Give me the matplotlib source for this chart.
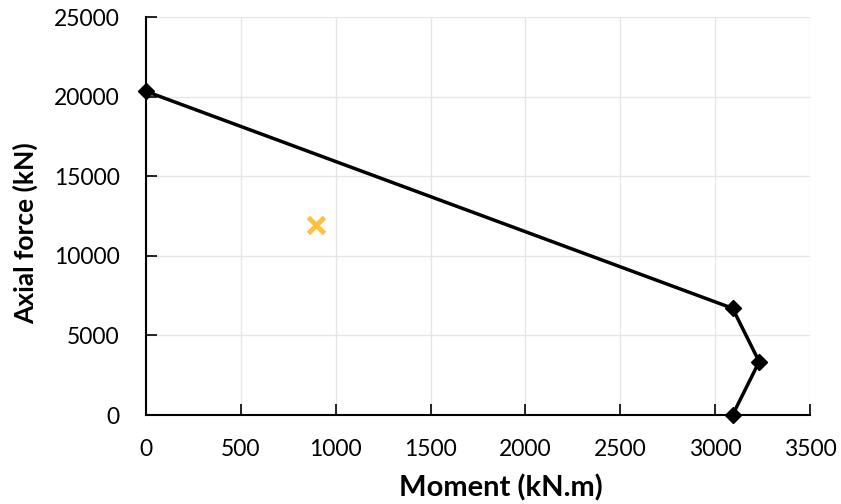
import matplotlib
matplotlib.use("Agg")
import matplotlib.pyplot as plt

moment = [0, 3092, 3232, 3092]
axial = [20330, 6700, 3350, 0]
pt_moment = [896]
pt_axial = [11950]

plt.rcParams['font.family'] = ['Lato', 'DejaVu Sans']
fig = plt.figure(figsize=(8.41, 5.04), dpi=100)
ax = fig.add_axes([146/841, 1-415/504, (810-146)/841, (415-17)/504])
ax.plot(moment, axial, color='black', lw=2.5, marker='D', ms=8.5, zorder=3, clip_on=False)
ax.plot(pt_moment, pt_axial, linestyle='none', marker='x', color='#FFC040', ms=11, mew=3.5, zorder=3)
ax.set_xlim(0, 3500)
ax.set_ylim(0, 25000)
ax.set_xticks(range(0, 3501, 500))
ax.set_yticks(range(0, 25001, 5000))
ax.grid(True, color='#E6E6E6', lw=1)
ax.set_axisbelow(True)
for s in ['top', 'right']:
    ax.spines[s].set_visible(False)
for s in ['left', 'bottom']:
    ax.spines[s].set_linewidth(1.5)
    ax.spines[s].set_color('black')
ax.tick_params(direction='in', length=8, width=1.2, labelsize=16.5)
ax.tick_params(axis='x', pad=17)
ax.tick_params(axis='y', pad=19)
ax.set_xlabel('Moment (kN.m)', fontsize=21, fontweight='bold')
ax.set_ylabel('Axial force (kN)', fontsize=19, fontweight='bold')
ax.xaxis.set_label_coords(0.535, -0.183)
ax.xaxis.label.set_va('center')
ax.yaxis.set_label_coords(-0.182, 0.457)
ax.yaxis.label.set_va('center')
ax.yaxis.label.set_ha('center')
fig.savefig('out.png', dpi=100)
